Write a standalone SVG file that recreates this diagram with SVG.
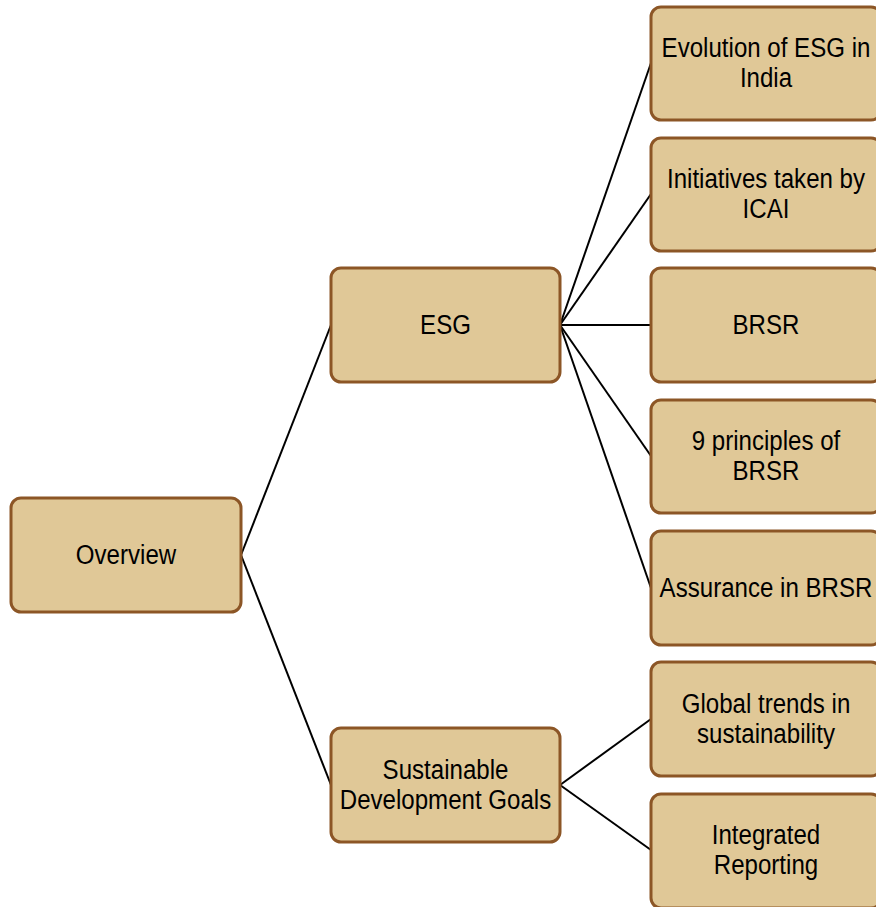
<svg xmlns="http://www.w3.org/2000/svg" width="876" height="907" viewBox="0 0 876 907">
<style>
.box{fill:#E0C897;stroke:#8C5626;stroke-width:3}
.t{font-family:"Liberation Sans",Arial,sans-serif;font-size:28px;fill:#000;text-anchor:middle}
.c{stroke:#000;stroke-width:2;fill:none}
</style>
<rect width="876" height="907" fill="#fff"/>
<g id="connectors">
<line class="c" x1="241" y1="555" x2="331" y2="325"/>
<line class="c" x1="241" y1="555" x2="331" y2="785"/>
<line class="c" x1="560" y1="325" x2="651" y2="63"/>
<line class="c" x1="560" y1="325" x2="651" y2="194"/>
<line class="c" x1="560" y1="325" x2="651" y2="325"/>
<line class="c" x1="560" y1="325" x2="651" y2="456"/>
<line class="c" x1="560" y1="325" x2="651" y2="588"/>
<line class="c" x1="560" y1="785" x2="651" y2="719"/>
<line class="c" x1="560" y1="785" x2="651" y2="850"/>
</g>
<g id="overview"><rect class="box" x="11" y="498" width="230" height="114" rx="10"/><text class="t" transform="translate(126,564) scale(0.86,1)">Overview</text></g>
<g id="esg"><rect class="box" x="331" y="268" width="229" height="114" rx="10"/><text class="t" transform="translate(445.5,334) scale(0.86,1)">ESG</text></g>
<g id="sdg"><rect class="box" x="331" y="728" width="229" height="114" rx="10"/><text class="t" transform="translate(445.5,779) scale(0.86,1)"><tspan x="0" y="0">Sustainable</tspan><tspan x="0" y="30">Development Goals</tspan></text></g>
<g id="evolution"><rect class="box" x="651" y="7" width="230" height="113" rx="10"/><text class="t" transform="translate(766,57) scale(0.86,1)"><tspan x="0" y="0">Evolution of ESG in</tspan><tspan x="0" y="30">India</tspan></text></g>
<g id="icai"><rect class="box" x="651" y="138" width="230" height="113" rx="10"/><text class="t" transform="translate(766,188) scale(0.86,1)"><tspan x="0" y="0">Initiatives taken by</tspan><tspan x="0" y="30">ICAI</tspan></text></g>
<g id="brsr"><rect class="box" x="651" y="268" width="230" height="114" rx="10"/><text class="t" transform="translate(766,334) scale(0.86,1)">BRSR</text></g>
<g id="principles"><rect class="box" x="651" y="400" width="230" height="113" rx="10"/><text class="t" transform="translate(766,450) scale(0.86,1)"><tspan x="0" y="0">9 principles of</tspan><tspan x="0" y="30">BRSR</tspan></text></g>
<g id="assurance"><rect class="box" x="651" y="531" width="230" height="114" rx="10"/><text class="t" transform="translate(766,597) scale(0.86,1)">Assurance in BRSR</text></g>
<g id="global"><rect class="box" x="651" y="662" width="230" height="114" rx="10"/><text class="t" transform="translate(766,713) scale(0.86,1)"><tspan x="0" y="0">Global trends in</tspan><tspan x="0" y="30">sustainability</tspan></text></g>
<g id="integrated"><rect class="box" x="651" y="794" width="230" height="114" rx="10"/><text class="t" transform="translate(766,844) scale(0.86,1)"><tspan x="0" y="0">Integrated</tspan><tspan x="0" y="30">Reporting</tspan></text></g>
</svg>
